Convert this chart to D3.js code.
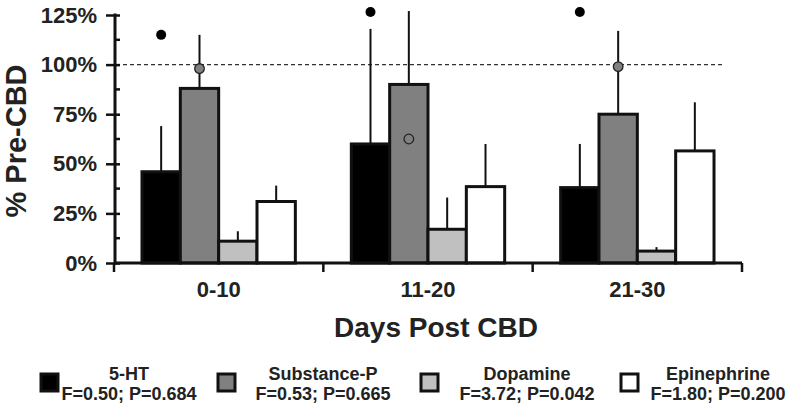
<!DOCTYPE html>
<html>
  <head>
    <meta http-equiv="Content-Type" content="text/html;charset=utf-8" />
    <title>% Pre-CBD by days post CBD</title>
    <script type="text/javascript" src="https://d3js.org/d3.v7.min.js"></script>
    <style>
      body { margin: 0; background: #fff; }
      text { font-family: "Liberation Sans", Arial, sans-serif; font-weight: bold; fill: #222; }
    </style>
  </head>
  <body>
    <div id="chart"></div>

    <script type="text/javascript">
      // data
      var groups = ["0-10", "11-20", "21-30"];
      var series = ["5-HT", "Substance-P", "Dopamine", "Epinephrine"];
      var stats = ["F=0.50; P=0.684", "F=0.53; P=0.665", "F=3.72; P=0.042", "F=1.80; P=0.200"];

      var meanHT = [46, 60, 38];
      var meanSubP = [88, 90, 75];
      var meanDA = [11, 17, 6];
      var meanEpi = [31, 38.5, 56.5];

      // top of the error whisker (mean + error)
      var errHT = [69, 118, 60];
      var errSubP = [115, 127, 117];
      var errDA = [16, 33, 8];
      var errEpi = [39, 60, 81];

      // extra markers drawn over the bars
      var markGroups = ["0-10", "11-20", "21-30", "0-10", "21-30", "11-20"];
      var markSeries = ["5-HT", "5-HT", "5-HT", "Substance-P", "Substance-P", "Substance-P"];
      var markValues = [115, 126.5, 126.5, 98, 99, 62.5];
      var markTypes = ["dot", "dot", "dot", "grey", "grey", "open"];

      var yTicks = [0, 25, 50, 75, 100, 125];
      var yMinor = [12.5, 37.5, 62.5, 87.5, 112.5];

      var fills = ["#000000", "#808080", "#c0c0c0", "#ffffff"];
      var legendSquareX = [41, 218, 421, 621];
      var legendTextX = [129, 323, 527, 718];

      var means = [meanHT, meanSubP, meanDA, meanEpi];
      var errs = [errHT, errSubP, errDA, errEpi];

      var width = 793, height = 410;

      var svg = d3.select("#chart").append("svg")
        .attr("width", width)
        .attr("height", height);

      var x0 = d3.scaleBand().domain(groups).range([114, 742]);
      var x1 = d3.scaleBand().domain(series)
        .range([0, x0.bandwidth()])
        .paddingInner(0)
        .paddingOuter(0.73);
      var y = d3.scaleLinear().domain([0, 125]).range([263, 15]);

      var rows = [];
      series.forEach(function(s, si) {
        groups.forEach(function(g, gi) {
          rows.push({ series: s, group: g, value: means[si][gi], err: errs[si][gi], fill: fills[si] });
        });
      });

      // reference line at 100%
      svg.append("line")
        .attr("x1", 116).attr("x2", 722)
        .attr("y1", y(100)).attr("y2", y(100))
        .attr("stroke", "#333")
        .attr("stroke-width", 1.2)
        .attr("stroke-dasharray", "4,3");

      // error whiskers (upper only)
      svg.append("g").selectAll("line")
        .data(rows)
        .join("line")
        .attr("x1", d => x0(d.group) + x1(d.series) + x1.bandwidth() / 2)
        .attr("x2", d => x0(d.group) + x1(d.series) + x1.bandwidth() / 2)
        .attr("y1", d => y(d.value))
        .attr("y2", d => y(d.err))
        .attr("stroke", "#111")
        .attr("stroke-width", 2);

      // bars
      svg.append("g").selectAll("rect")
        .data(rows)
        .join("rect")
        .attr("x", d => x0(d.group) + x1(d.series))
        .attr("y", d => y(d.value))
        .attr("width", x1.bandwidth())
        .attr("height", d => y(0) - y(d.value))
        .attr("fill", d => d.fill)
        .attr("stroke", "#111")
        .attr("stroke-width", 3);

      // markers
      var marks = markValues.map((v, i) => ({ group: markGroups[i], series: markSeries[i], value: v, type: markTypes[i] }));
      svg.append("g").selectAll("circle")
        .data(marks)
        .join("circle")
        .attr("cx", d => x0(d.group) + x1(d.series) + x1.bandwidth() / 2)
        .attr("cy", d => y(d.value))
        .attr("r", d => d.type == "dot" ? 5 : 4.8)
        .attr("fill", d => d.type == "dot" ? "#000" : d.type == "grey" ? "#808080" : "none")
        .attr("stroke", d => d.type == "dot" ? "none" : "#222")
        .attr("stroke-width", 1.3);

      // y axis
      var yAxis = d3.axisLeft(y)
        .tickValues(yTicks)
        .tickSize(9)
        .tickPadding(9)
        .tickFormat(d => d + "%");
      var gY = svg.append("g")
        .attr("transform", "translate(115,0)")
        .call(yAxis);
      gY.select(".domain").remove();
      gY.selectAll(".tick line").attr("x1", 5).attr("stroke", "#111").attr("stroke-width", 2.5);
      gY.selectAll(".tick text")
        .attr("font-size", "22px")
        .attr("font-family", "Liberation Sans, Arial, sans-serif")
        .attr("font-weight", "bold")
        .attr("fill", "#222");

      svg.append("g").selectAll("line")
        .data(yMinor)
        .join("line")
        .attr("x1", 115).attr("x2", 120)
        .attr("y1", d => y(d)).attr("y2", d => y(d))
        .attr("stroke", "#111")
        .attr("stroke-width", 2.5);

      svg.append("line")
        .attr("x1", 115).attr("x2", 115)
        .attr("y1", y(125) - 1.5).attr("y2", y(0) + 1.5)
        .attr("stroke", "#111")
        .attr("stroke-width", 3);

      // x axis
      var edges = groups.map(g => x0(g)).concat([x0.range()[1]]);
      svg.append("line")
        .attr("x1", x0.range()[0]).attr("x2", x0.range()[1])
        .attr("y1", y(0)).attr("y2", y(0))
        .attr("stroke", "#111")
        .attr("stroke-width", 3);
      svg.append("g").selectAll("line")
        .data(edges)
        .join("line")
        .attr("x1", d => d).attr("x2", d => d)
        .attr("y1", y(0)).attr("y2", y(0) + 9)
        .attr("stroke", "#111")
        .attr("stroke-width", 2.5);

      svg.append("g").selectAll("text")
        .data(groups)
        .join("text")
        .attr("x", d => x0(d) + x0.bandwidth() / 2)
        .attr("y", 297)
        .attr("text-anchor", "middle")
        .attr("font-size", "22px")
        .text(d => d);

      // axis titles
      svg.append("text")
        .attr("x", 436)
        .attr("y", 337)
        .attr("text-anchor", "middle")
        .attr("font-size", "28px")
        .text("Days Post CBD");

      svg.append("text")
        .attr("transform", "translate(26,141) rotate(-90)")
        .attr("text-anchor", "middle")
        .attr("font-size", "29px")
        .text("% Pre-CBD");

      // legend
      var legend = svg.append("g").selectAll("g")
        .data(series)
        .join("g");
      legend.append("rect")
        .attr("x", (d, i) => legendSquareX[i])
        .attr("y", 374)
        .attr("width", 17)
        .attr("height", 17)
        .attr("fill", (d, i) => fills[i])
        .attr("stroke", "#111")
        .attr("stroke-width", 3);
      legend.append("text")
        .attr("x", (d, i) => legendTextX[i])
        .attr("y", 380)
        .attr("text-anchor", "middle")
        .attr("font-size", "18px")
        .text(d => d);
      legend.append("text")
        .attr("x", (d, i) => legendTextX[i])
        .attr("y", 400)
        .attr("text-anchor", "middle")
        .attr("font-size", "18px")
        .text((d, i) => stats[i]);
    </script>
  </body>
</html>
